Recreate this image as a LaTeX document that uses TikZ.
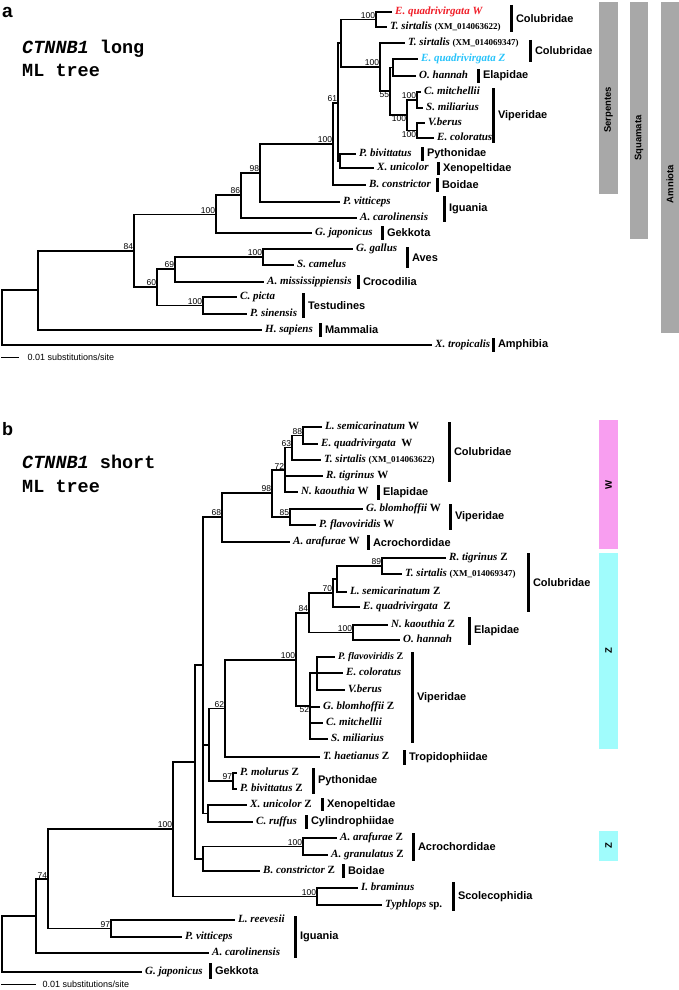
\documentclass[tikz,border=0pt]{standalone}
\usepackage{fontspec}
\setmainfont{Liberation Serif}
\setsansfont{Liberation Sans}
\setmonofont{Liberation Mono}
\usepackage{tikz}
\usetikzlibrary{positioning}

\definecolor{qwred}{RGB}{240,30,40}
\definecolor{qzcyan}{RGB}{40,195,250}
\definecolor{bargray}{RGB}{168,168,168}
\definecolor{wpink}{RGB}{248,158,240}
\definecolor{zcyan}{RGB}{160,252,252}
\newcommand{\taxfont}{\rmfamily\bfseries\itshape\fontsize{11}{13}\selectfont}
\newcommand{\accfont}{\upshape\fontsize{9}{11}\selectfont}
\newcommand{\famfont}{\sffamily\bfseries\fontsize{11}{13}\selectfont}
\newcommand{\btfont}{\sffamily\fontsize{8.5}{10}\selectfont}
\newcommand{\sbfont}{\sffamily\fontsize{9}{11}\selectfont}
\newcommand{\ttlfont}{\ttfamily\bfseries\fontsize{18.5}{22}\selectfont}
\newcommand{\acc}[1]{{\accfont #1}}
\newcommand{\wz}[1]{\upshape #1}

\begin{document}
\begin{tikzpicture}[x=1pt,y=-1pt]
\tikzstyle{leaf}=[anchor=west,inner xsep=3pt,inner ysep=0pt,text height=8pt,text depth=2.5pt,font=\taxfont]
\tikzstyle{boot}=[anchor=south east,inner sep=0.8pt,font=\btfont]
\tikzstyle{bootlow}=[anchor=north east,inner sep=0.8pt,font=\btfont]
\tikzstyle{branch}=[line width=1.1pt]
\tikzstyle{fambar}=[line width=3pt]
\tikzstyle{famlab}=[midway,right=3.5pt,inner sep=0pt,font=\famfont]
\tikzstyle{vlab}=[rotate=90,inner sep=0pt,font=\sffamily\bfseries\fontsize{9.5}{11}\selectfont]
\tikzstyle{title}=[anchor=base west,inner sep=0pt,font=\ttlfont]
\useasboundingbox (0,0) rectangle (679,990);

% panel a
\node[anchor=base west,inner sep=0pt,font=\sffamily\bfseries\fontsize{19}{22}\selectfont] (pa) at (2,18) {a};
\node[title] (ttlA1) at (22,54) {\textit{CTNNB1} long};
\node[title] (ttlA2) at (22,77) {ML tree};

\fill[bargray] (599,2) rectangle (618,194);
\node[vlab] (serp) at (608.5,110) {Serpentes};
\fill[bargray] (630,2) rectangle (648,239);
\node[vlab] (squa) at (639,138) {Squamata};
\fill[bargray] (661,2) rectangle (679,333);
\node[vlab] (amni) at (670,184) {Amniota};

\coordinate (rootA) at (2,317.5);
\coordinate (nAmn) at (38,290);
\coordinate (n84a) at (134,251);
\coordinate (n100b) at (216,214.5);
\coordinate (n86) at (241,195);
\coordinate (n98a) at (260,173);
\coordinate (n100a) at (333,144);
\coordinate (n61) at (338,103);
\coordinate (nSn) at (341,43);
\coordinate (nC1) at (376,19.5);
\coordinate (nZa) at (380,67);
\coordinate (n55) at (390,91);
\coordinate (nEl) at (393,67.5);
\coordinate (nVip) at (407,115);
\coordinate (nCS) at (417,100);
\coordinate (nVE) at (417,130.5);
\coordinate (nPX) at (340,161);
\coordinate (n60) at (157,287);
\coordinate (n69) at (175,269);
\coordinate (nAv) at (263,257);
\coordinate (nTe) at (203,305.5);

\node[leaf,text=qwred] (qwA) at (392,12) {E. quadrivirgata W};
\node[leaf] (tsaA) at (387,27) {T. sirtalis \acc{(XM\_014063622)}};
\node[leaf] (tsbA) at (405,43) {T. sirtalis \acc{(XM\_014069347)}};
\node[leaf,text=qzcyan] (qzA) at (418,59) {E. quadrivirgata Z};
\node[leaf] (ohA) at (416,76) {O. hannah};
\node[leaf] (cmA) at (421,92) {C. mitchellii};
\node[leaf] (smA) at (423,108) {S. miliarius};
\node[leaf] (vbA) at (425,123) {V.berus};
\node[leaf] (ecA) at (434,138) {E. coloratus};
\node[leaf] (pbA) at (356,154) {P. bivittatus};
\node[leaf] (xuA) at (374,168) {X. unicolor};
\node[leaf] (bcA) at (366,185) {B. constrictor};
\node[leaf] (pvA) at (340,202) {P. vitticeps};
\node[leaf] (acA) at (357,218) {A. carolinensis};
\node[leaf] (gjA) at (312,233) {G. japonicus};
\node[leaf] (ggA) at (353,249) {G. gallus};
\node[leaf] (scA) at (294,265) {S. camelus};
\node[leaf] (amA) at (264,282) {A. mississippiensis};
\node[leaf] (cpA) at (237,297) {C. picta};
\node[leaf] (psA) at (247,314) {P. sinensis};
\node[leaf] (hsA) at (262,330) {H. sapiens};
\node[leaf] (xtA) at (432,345) {X. tropicalis};

\draw[branch] (rootA) |- (nAmn) (rootA) |- (xtA.west);
\draw[branch] (nAmn) |- (n84a) (nAmn) |- (hsA.west);
\draw[branch] (n84a) |- (n100b) (n84a) |- (n60);
\draw[branch] (n100b) |- (n86) (n100b) |- (gjA.west);
\draw[branch] (n86) |- (n98a) (n86) |- (acA.west);
\draw[branch] (n98a) |- (n100a) (n98a) |- (pvA.west);
\draw[branch] (n100a) |- (n61) (n100a) |- (bcA.west);
\draw[branch] (n61) |- (nSn) (n61) |- (nPX);
\draw[branch] (nSn) |- (nC1) (nSn) |- (nZa);
\draw[branch] (nC1) |- (qwA.west) (nC1) |- (tsaA.west);
\draw[branch] (nZa) |- (tsbA.west) (nZa) |- (n55);
\draw[branch] (n55) |- (nEl) (n55) |- (nVip);
\draw[branch] (nEl) |- (qzA.west) (nEl) |- (ohA.west);
\draw[branch] (nVip) |- (nCS) (nVip) |- (nVE);
\draw[branch] (nCS) |- (cmA.west) (nCS) |- (smA.west);
\draw[branch] (nVE) |- (vbA.west) (nVE) |- (ecA.west);
\draw[branch] (nPX) |- (pbA.west) (nPX) |- (xuA.west);
\draw[branch] (n60) |- (n69) (n60) |- (nTe);
\draw[branch] (n69) |- (nAv) (n69) |- (amA.west);
\draw[branch] (nAv) |- (ggA.west) (nAv) |- (scA.west);
\draw[branch] (nTe) |- (cpA.west) (nTe) |- (psA.west);

\node[boot] (bC1) at (nC1) {100};
\node[boot] (bZa) at (nZa) {100};
\node[bootlow] (b55) at (n55) {55};
\node[boot] (bCS) at (nCS) {100};
\node[bootlow] (bVip) at (nVip) {100};
\node[bootlow] (bVE) at (nVE) {100};
\node[boot] (b61) at (n61) {61};
\node[boot] (b100a) at (n100a) {100};
\node[boot] (b98a) at (n98a) {98};
\node[boot] (b86) at (n86) {86};
\node[boot] (b100b) at (n100b) {100};
\node[boot] (b84a) at (n84a) {84};
\node[boot] (b60) at (n60) {60};
\node[boot] (b69) at (n69) {69};
\node[boot] (bAv) at (nAv) {100};
\node[boot] (bTe) at (nTe) {100};

\draw[fambar] (511,5) -- (511,32) node[famlab] (fColA) {Colubridae};
\draw[fambar] (530,40) -- (530,62) node[famlab] (fColB) {Colubridae};
\draw[fambar] (478,69) -- (478,83) node[famlab] (fElaA) {Elapidae};
\draw[fambar] (493,88) -- (493,143) node[famlab] (fVipA) {Viperidae};
\draw[fambar] (422,147) -- (422,161) node[famlab] (fPytA) {Pythonidae};
\draw[fambar] (438,162) -- (438,175) node[famlab] (fXenA) {Xenopeltidae};
\draw[fambar] (437,178) -- (437,192) node[famlab] (fBoiA) {Boidae};
\draw[fambar] (444,196) -- (444,222) node[famlab] (fIguA) {Iguania};
\draw[fambar] (382,226) -- (382,240) node[famlab] (fGekA) {Gekkota};
\draw[fambar] (407,247) -- (407,268) node[famlab] (fAve) {Aves};
\draw[fambar] (358,275) -- (358,289) node[famlab] (fCro) {Crocodilia};
\draw[fambar] (303,293) -- (303,318) node[famlab] (fTes) {Testudines};
\draw[fambar] (320,323) -- (320,337) node[famlab] (fMam) {Mammalia};
\draw[fambar] (493,338) -- (493,352) node[famlab] (fAmp) {Amphibia};

\coordinate (sbA1) at (1,357);
\coordinate (sbA2) at (19,357);
\draw[line width=1pt] (sbA1) -- (sbA2) node[right=8pt,inner sep=0pt,font=\sbfont] (sbAlab) {0.01 substitutions/site};

% panel b
\node[anchor=base west,inner sep=0pt,font=\sffamily\bfseries\fontsize{18}{22}\selectfont] (pb) at (2,435) {b};
\node[title] (ttlB1) at (22,468) {\textit{CTNNB1} short};
\node[title] (ttlB2) at (22,492) {ML tree};

\fill[wpink] (599,420) rectangle (618,549);
\node[vlab] (wlab) at (608.5,485) {W};
\fill[zcyan] (599,553) rectangle (618,749);
\node[vlab] (zlab) at (608.5,651) {Z};
\fill[zcyan] (599,831) rectangle (618,861);
\node[vlab] (zlabb) at (608.5,846) {Z};

\coordinate (rootB) at (2,944);
\coordinate (n36) at (36,916);
\coordinate (n74) at (48,879);
\coordinate (n97c) at (111,928.5);
\coordinate (n100d) at (173,829);
\coordinate (nSc) at (317,896.5);
\coordinate (n195) at (195,762);
\coordinate (nAB) at (203,859);
\coordinate (nAc) at (303,846.5);
\coordinate (n203) at (203,665);
\coordinate (nXC) at (208,813.5);
\coordinate (n209) at (209,745);
\coordinate (n97b) at (233,781);
\coordinate (n62) at (225,708.5);
\coordinate (n100c) at (296,660);
\coordinate (n52) at (310,706);
\coordinate (nV3) at (317,673);
\coordinate (n84b) at (309,613);
\coordinate (nEb) at (353,632.5);
\coordinate (n70) at (333,593);
\coordinate (nU) at (337,579);
\coordinate (n89) at (382,566);
\coordinate (n68) at (222,517);
\coordinate (n98b) at (272,493);
\coordinate (n85) at (290,517);
\coordinate (n72) at (285,470);
\coordinate (n63) at (292,447.5);
\coordinate (n88) at (303,435.5);

\node[leaf] (lsW) at (322,427) {L. semicarinatum \wz{W}};
\node[leaf] (eqW) at (318,444) {E. quadrivirgata\enspace\wz{W}};
\node[leaf] (tsW) at (321,460) {T. sirtalis \acc{(XM\_014063622)}};
\node[leaf] (rtW) at (323,476) {R. tigrinus \wz{W}};
\node[leaf] (nkW) at (298,492) {N. kaouthia \wz{W}};
\node[leaf] (gbW) at (363,509) {G. blomhoffii \wz{W}};
\node[leaf] (pfW) at (316,525) {P. flavoviridis \wz{W}};
\node[leaf] (aaW) at (290,542) {A. arafurae \wz{W}};
\node[leaf] (rtZ) at (446,558) {R. tigrinus \wz{Z}};
\node[leaf] (tsZ) at (402,574) {T. sirtalis \acc{(XM\_014069347)}};
\node[leaf] (lsZ) at (347,592) {L. semicarinatum \wz{Z}};
\node[leaf] (eqZ) at (360,607) {E. quadrivirgata\enspace\wz{Z}};
\node[leaf] (nkZ) at (388,625) {N. kaouthia \wz{Z}};
\node[leaf] (ohZ) at (400,640) {O. hannah};
\node[leaf] (pfZ) at (335,657) {\fontsize{10}{12}\selectfont P. flavoviridis \wz{Z}};
\node[leaf] (ecZ) at (343,673) {E. coloratus};
\node[leaf] (vbZ) at (345,690) {V.berus};
\node[leaf] (gbZ) at (320,707) {G. blomhoffii \wz{Z}};
\node[leaf] (cmZ) at (323,723) {C. mitchellii};
\node[leaf] (smZ) at (328,739) {S. miliarius};
\node[leaf] (thZ) at (320,757) {T. haetianus \wz{Z}};
\node[leaf] (pmZ) at (237,773) {P. molurus \wz{Z}};
\node[leaf] (pbZ) at (237,789) {P. bivittatus \wz{Z}};
\node[leaf] (xuZ) at (247,805) {X. unicolor \wz{Z}};
\node[leaf] (crZ) at (253,822) {C. ruffus};
\node[leaf] (aaZ) at (337,838) {A. arafurae \wz{Z}};
\node[leaf] (agZ) at (328,855) {A. granulatus \wz{Z}};
\node[leaf] (bcZ) at (260,871) {B. constrictor \wz{Z}};
\node[leaf] (ibZ) at (358,888) {I. braminus};
\node[leaf] (tyZ) at (382,905) {Typhlops \textup{sp.}};
\node[leaf] (lrZ) at (235,920) {L. reevesii};
\node[leaf] (pvZ) at (182,937) {P. vitticeps};
\node[leaf] (acZ) at (209,953) {A. carolinensis};
\node[leaf] (gjZ) at (142,972) {G. japonicus};

\draw[branch] (rootB) |- (n36) (rootB) |- (gjZ.west);
\draw[branch] (n36) |- (n74) (n36) |- (acZ.west);
\draw[branch] (n74) |- (n100d) (n74) |- (n97c);
\draw[branch] (n97c) |- (lrZ.west) (n97c) |- (pvZ.west);
\draw[branch] (n100d) |- (n195) (n100d) |- (nSc);
\draw[branch] (nSc) |- (ibZ.west) (nSc) |- (tyZ.west);
\draw[branch] (n195) |- (n203) (n195) |- (nAB);
\draw[branch] (nAB) |- (nAc) (nAB) |- (bcZ.west);
\draw[branch] (nAc) |- (aaZ.west) (nAc) |- (agZ.west);
\draw[branch] (n203) |- (n68) (n203) |- (n209) (n203) |- (nXC);
\draw[branch] (nXC) |- (xuZ.west) (nXC) |- (crZ.west);
\draw[branch] (n209) |- (n62) (n209) |- (n97b);
\draw[branch] (n97b) |- (pmZ.west) (n97b) |- (pbZ.west);
\draw[branch] (n62) |- (n100c) (n62) |- (thZ.west);
\draw[branch] (n100c) |- (n84b) (n100c) |- (n52);
\draw[branch] (n52) |- (nV3) (n52) |- (gbZ.west) (n52) |- (cmZ.west) (n52) |- (smZ.west);
\draw[branch] (nV3) |- (pfZ.west) (nV3) |- (ecZ.west) (nV3) |- (vbZ.west);
\draw[branch] (n84b) |- (n70) (n84b) |- (nEb);
\draw[branch] (nEb) |- (nkZ.west) (nEb) |- (ohZ.west);
\draw[branch] (n70) |- (nU) (n70) |- (eqZ.west);
\draw[branch] (nU) |- (n89) (nU) |- (lsZ.west);
\draw[branch] (n89) |- (rtZ.west) (n89) |- (tsZ.west);
\draw[branch] (n68) |- (n98b) (n68) |- (aaW.west);
\draw[branch] (n98b) |- (n72) (n98b) |- (n85);
\draw[branch] (n85) |- (gbW.west) (n85) |- (pfW.west);
\draw[branch] (n72) |- (n63) (n72) |- (rtW.west) (n72) |- (nkW.west);
\draw[branch] (n63) |- (n88) (n63) |- (tsW.west);
\draw[branch] (n88) |- (lsW.west) (n88) |- (eqW.west);

\node[boot] (b88) at (n88) {88};
\node[boot] (b63) at (n63) {63};
\node[boot] (b72) at (n72) {72};
\node[boot] (b98b) at (n98b) {98};
\node[boot] (b85) at (n85) {85};
\node[boot] (b68) at (n68) {68};
\node[boot] (b89) at (n89) {89};
\node[boot] (b70) at (n70) {70};
\node[boot] (bEb) at (nEb) {100};
\node[boot] (b84b) at (n84b) {84};
\node[boot] (b100c) at (n100c) {100};
\node[bootlow] (b52) at (n52) {52};
\node[boot] (b62) at (n62) {62};
\node[boot] (b97b) at (n97b) {97};
\node[boot] (bAc) at (nAc) {100};
\node[boot] (b100d) at (n100d) {100};
\node[boot] (bSc) at (nSc) {100};
\node[boot] (b74) at (n74) {74};
\node[boot] (b97c) at (n97c) {97};

\draw[fambar] (449,422) -- (449,482) node[famlab] (fColW) {Colubridae};
\draw[fambar] (378,485) -- (378,500) node[famlab] (fElaW) {Elapidae};
\draw[fambar] (450,504) -- (450,530) node[famlab] (fVipW) {Viperidae};
\draw[fambar] (368,535) -- (368,550) node[famlab] (fAcrW) {Acrochordidae};
\draw[fambar] (528,553) -- (528,612) node[famlab] (fColZ) {Colubridae};
\draw[fambar] (469,617) -- (469,645) node[famlab] (fElaZ) {Elapidae};
\draw[fambar] (412,652) -- (412,743) node[famlab] (fVipZ) {Viperidae};
\draw[fambar] (404,750) -- (404,765) node[famlab] (fTro) {Tropidophiidae};
\draw[fambar] (313,768) -- (313,794) node[famlab] (fPytZ) {Pythonidae};
\draw[fambar] (322,798) -- (322,811) node[famlab] (fXenZ) {Xenopeltidae};
\draw[fambar] (306,815) -- (306,829) node[famlab] (fCyl) {Cylindrophiidae};
\draw[fambar] (413,833) -- (413,861) node[famlab] (fAcrZ) {Acrochordidae};
\draw[fambar] (343,864) -- (343,878) node[famlab] (fBoiZ) {Boidae};
\draw[fambar] (453,882) -- (453,911) node[famlab] (fSco) {Scolecophidia};
\draw[fambar] (295,916) -- (295,958) node[famlab] (fIguZ) {Iguania};
\draw[fambar] (210,963) -- (210,979) node[famlab] (fGekZ) {Gekkota};

\coordinate (sbB1) at (1,984);
\coordinate (sbB2) at (36,984);
\draw[line width=1pt] (sbB1) -- (sbB2) node[right=6pt,inner sep=0pt,font=\sbfont] (sbBlab) {0.01 substitutions/site};
\end{tikzpicture}
\end{document}
